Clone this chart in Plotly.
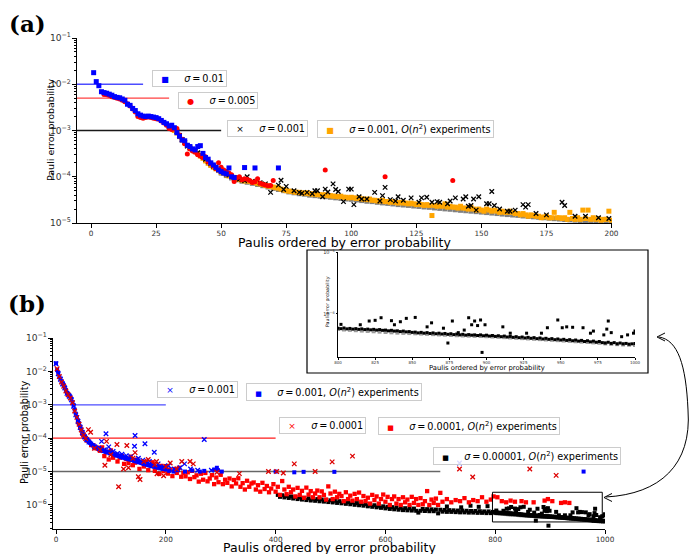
import plotly.graph_objects as go
import math

W, H = 689, 554

# ================= Panel (a): first 200 Paulis =================
a_ticks_x = [0, 25, 50, 75, 100, 125, 150, 175, 200]
a_sigma_levels = [1e-2, 5e-3, 1e-3]
a_sigma_line_end = [20, 30, 50]

# sigma = 0.01 (blue squares), values in units of 1e-5
a_blue_x = list(range(1, 56)) + [59, 63, 72]
a_blue_y_e5 = [1780, 1140, 930, 690, 660, 640, 610, 580, 540, 520,
               510, 480, 450, 370, 350, 300, 270, 230, 215, 205,
               200, 205, 200, 195, 190, 180, 165, 150, 140, 125,
               130, 115, 90, 75, 62, 60, 48, 45, 40, 38,
               45, 47, 32, 26, 24, 20, 18, 16, 14, 13,
               12, 11.5, 15.5, 10, 9.6,
               15.8, 15.5, 15.5]

# sigma = 0.005 (red circles)
a_red_x = list(range(5, 71)) + [90, 113, 139]
a_red_y_e5 = [600, 590, 570, 540, 520, 500, 480, 450, 420, 380,
              340, 290, 250, 200, 190, 185, 190, 195, 190, 185,
              180, 175, 160, 145, 130, 110, 105, 108, 110, 80,
              65, 52, 31, 40, 36, 34, 30, 28, 26, 27,
              21, 19, 17, 15, 20, 16, 14, 13, 12, 11,
              7.9, 9.5, 10, 8.6, 9.0, 8.8, 8.3, 7.5, 7.8, 9.0,
              7.2, 6.9, 6.6, 6.4, 6.5, 8.3,
              14, 10, 8.3]

# sigma = 0.001 (black crosses)
a_black_x = list(range(33, 60)) + [
    60, 62, 65, 67, 69, 72, 73, 74, 75, 78,
    80, 81, 83, 85, 86, 87, 89, 90, 91, 93,
    94, 95, 97, 99, 100, 101, 103, 104, 106, 109,
    111, 112, 113, 115, 117, 118, 120, 123, 126, 127,
    129, 131, 133, 134, 137, 138, 140, 143, 144, 145,
    146, 147, 148, 149, 152, 153, 154, 155, 157, 160,
    161, 163, 166, 167, 168, 171, 175, 181, 182, 186,
    190, 195, 199]
a_black_y_e5 = [95, 78, 64, 56, 46, 42, 39, 36, 33, 30,
                27, 24, 21, 19, 17, 15.5, 14.5, 13.4, 12.5, 11.6,
                10.9, 10.2, 9.7, 9.2, 8.9, 8.6, 8.3,
                10.0, 8.0, 7.4, 7.0, 4.6, 6.6, 8.4, 5.3, 6.2, 5.0,
                4.6, 4.4, 4.6, 4.3, 5.0, 5.0, 3.7, 5.4, 4.7, 7.0,
                5.3, 4.8, 2.9, 5.4, 5.4, 2.5, 3.7, 3.3, 3.3, 4.6,
                3.0, 3.9, 5.9, 3.2, 3.0, 3.7, 3.1, 3.5, 2.8, 3.5,
                3.6, 2.8, 2.9, 2.8, 2.6, 3.0, 3.5, 3.3, 3.7, 2.3,
                2.4, 3.3, 1.9, 3.7, 2.6, 2.6, 4.8, 2.4, 2.0, 1.8,
                1.8, 1.9, 2.5, 2.2, 2.5, 1.6, 1.5, 2.8, 2.4, 1.4,
                1.4, 1.3, 1.25]

# sigma = 0.001, O(n^2) experiments (orange squares)
a_orange_x = list(range(30, 201))
a_orange_y_e5 = [122, 112, 100, 88, 74, 62, 54, 47, 42, 38,
                 35, 32, 28, 25, 22, 19.5, 17.5, 16, 14.8, 13.6,
                 12.6, 11.8, 11.0, 10.4, 9.8, 9.3, 9.0, 8.7, 8.4, 8.1,
                 8.3, 7.9, 7.6, 7.5, 7.2, 7.0, 6.8, 6.5, 6.3, 6.2,
                 6.0, 5.8, 5.7, 5.4, 5.2, 5.0, 4.9, 4.8, 4.7, 4.6,
                 4.6, 4.5, 4.4, 4.5, 4.3, 4.2, 4.3, 4.1, 4.1, 4.0,
                 4.1, 3.9, 3.9, 3.8, 3.8, 3.7, 3.8, 3.6, 3.6, 3.5,
                 3.6, 3.5, 3.4, 3.5, 3.3, 3.3, 3.2, 3.3, 3.1, 3.1,
                 3.0, 3.0, 3.1, 2.9, 2.9, 2.8, 2.9, 2.8, 2.7, 2.8,
                 2.7, 2.7, 2.6, 2.7, 2.6, 2.5, 2.6, 2.5, 2.4, 2.5,
                 2.4, 1.45, 2.4, 2.3, 2.4, 2.3, 2.6, 2.2, 2.3, 2.2,
                 2.2, 2.1, 2.3, 2.1, 2.1, 2.0, 2.2, 2.0, 1.9, 2.0,
                 1.9, 1.8, 2.0, 1.9, 1.8, 1.9, 1.8, 1.7, 1.8, 1.7,
                 1.7, 1.8, 1.7, 1.6, 1.6, 1.5, 1.6, 1.5, 1.4, 1.5,
                 1.45, 1.4, 1.4, 1.3, 1.35, 1.4, 1.3, 1.3, 1.7, 1.3,
                 1.3, 1.25, 1.3, 1.2, 1.7, 1.25, 1.2, 1.3, 1.2, 1.9,
                 1.25, 1.9, 1.2, 1.3, 1.2, 1.25, 1.15, 1.2, 1.2, 1.8,
                 1.15]

# true error rates (grey squares under the orange ones)
a_gray_x = list(range(50, 201, 2))
a_gray_y_e5 = [12.0, 10.6, 9.4, 8.6, 8.0, 7.6, 7.2, 6.8, 6.4, 6.0,
               5.6, 5.3, 5.0, 4.7, 4.5, 4.3, 4.2, 4.0, 3.9, 3.8,
               3.7, 3.6, 3.5, 3.4, 3.3, 3.25, 3.15, 3.05, 2.95, 2.9,
               2.8, 2.72, 2.65, 2.58, 2.5, 2.45, 2.4, 2.33, 2.28, 2.22,
               2.18, 2.12, 2.07, 2.02, 1.98, 1.93, 1.88, 1.84, 1.8, 1.76,
               1.72, 1.68, 1.64, 1.6, 1.56, 1.52, 1.49, 1.46, 1.42, 1.39,
               1.36, 1.33, 1.3, 1.27, 1.24, 1.22, 1.19, 1.17, 1.15, 1.13,
               1.11, 1.09, 1.07, 1.05, 1.04, 1.02]

# ================= Panel (b): 1000 Paulis =================
b_ticks_x = [0, 200, 400, 600, 800, 1000]
b_sigma_levels = [1e-3, 1e-4, 1e-5]
b_sigma_line_end = [200, 400, 700]

# sigma = 0.001, O(n^2) experiments (blue squares), units of 1e-6
b_bsq_x = list(range(0, 201, 2)) + [206, 214, 222, 235, 248, 262, 270, 288, 293, 295, 302, 400, 434, 451, 507, 961]
b_bsq_y_e6 = [17500, 11000, 9200, 6900, 6100, 5100, 4400, 3900, 3300, 2800, 2300,
              2100, 1950, 1750, 1500, 1200, 980, 720, 540, 430, 340,
              280, 225, 185, 155, 130, 113, 102, 93, 85, 79,
              72, 69, 63, 61, 56, 55, 51, 50, 47, 47,
              44, 44, 41, 42, 39, 40, 37, 38, 35, 36,
              34, 35, 32, 33, 30, 31, 29, 30, 27, 28,
              26, 27, 25, 26, 24, 24.5, 23, 23.5, 22, 22.5,
              21, 22, 20, 20.5, 19, 19.5, 18.5, 18, 17.5, 17,
              16.5, 17, 16, 15.5, 15.5, 15, 14.5, 15, 14, 14,
              13.5, 14, 13, 13.5, 12.5, 13, 12, 12.5, 12, 11.5,
              10.5, 10, 11, 10, 10.8, 10, 10.5, 11.5, 13, 11, 10, 10, 9.5, 9.8, 9.8, 10]

# sigma = 0.001 (blue crosses)
b_bx_x = [0, 4, 8, 12, 16, 20, 24, 28, 32, 36, 40, 44, 48, 52, 56, 60,
          70, 78, 83, 88, 91, 96, 104, 112, 120, 128,
          136, 143, 144, 150, 158, 162, 170, 179, 186, 196,
          205, 215, 226, 234, 245, 258, 270, 283, 735]
b_bx_y_e6 = [17000, 8500, 5800, 4200, 3200, 2200, 1800, 1400, 900, 500, 320, 210, 145, 108, 90, 76,
             55, 50, 80, 45, 135, 55, 40, 35, 33, 30,
             28, 57, 120, 25, 22, 68, 20, 38, 17, 14,
             15, 12, 13, 17, 12, 11, 91, 11, 18]

# sigma = 0.0001 (red crosses)
b_rx_x = [2, 6, 10, 14, 18, 22, 26, 30, 34, 38, 42, 46, 50, 54,
          59, 63, 70, 80, 89, 92, 100, 111, 114, 123,
          129, 132, 140, 144, 150, 153, 160, 168, 180, 183,
          184, 196, 200, 208, 220, 229, 244, 250, 293, 334,
          387, 402, 414, 434, 472, 503, 540, 735, 759, 863,
          911]
b_rx_y_e6 = [12000, 7000, 4800, 3600, 2600, 2000, 1600, 1150, 650, 420, 260, 175, 125, 98,
             180, 150, 50, 45, 15.5, 80, 32, 65, 3.5, 12,
             60, 13, 25, 37, 7.0, 5.8, 20, 23, 16, 20,
             8.6, 7.5, 14, 18, 12, 20, 20, 17, 9.5, 8.7,
             10, 10, 9.1, 17, 10, 19.5, 29, 12, 6.9, 12,
             7.7]

# sigma = 0.0001, O(n^2) experiments (red squares), units of 1e-6
b_rsq_x = list(range(40, 701, 4)) + [704, 712, 720, 728, 736, 744, 752, 760, 768, 776,
                                     784, 792, 797, 804, 812, 820, 828, 836, 848, 856,
                                     870, 890, 896, 904, 920, 927, 935]
b_rsq_y_e6 = [300, 205, 135, 112, 85, 78, 62, 61, 50, 52,
              42, 53, 29, 39, 23, 43, 26, 32, 20, 26,
              29, 17, 24, 18, 28, 15.5, 18.5, 23, 12, 19,
              14.2, 19.8, 11, 15.5, 19, 10.5, 13.2, 8.5, 14.8, 10.3,
              14.6, 8.7, 11.6, 7.3, 11.9, 9.1, 13, 7.0, 9.2, 7.2,
              9.5, 6.0, 10.5, 6.8, 7.7, 5.0, 8.6, 5.7, 9.1, 5.1,
              6.2, 7.8, 4.2, 6.6, 4.8, 8.0, 4.2, 5.7, 4.6, 6.2,
              3.6, 5.6, 4.4, 6.3, 3.5, 4.5, 2.9, 5.3, 3.5, 4.4,
              4.7, 2.9, 3.9, 2.5, 4.6, 3.0, 3.7, 2.4, 3.1, 4.2,
              2.5, 3.5, 2.0, 5.2, 2.9, 2.1, 3.5, 2.4, 2.9, 1.8,
              3.25, 2.0, 2.65, 1.65, 3.3, 2.05, 2.6, 1.7, 2.2, 2.7,
              1.7, 2.55, 2.0, 1.45, 3.6, 2.2, 1.5, 2.5, 1.7, 2.15,
              1.85, 1.3, 2.4, 1.5, 1.9, 1.35, 2.15, 1.5, 2.35, 1.25,
              1.85, 1.3, 1.65, 1.1, 2.0, 1.4, 1.8, 1.1, 1.5, 2.05,
              1.25, 1.75, 1.0, 1.5, 1.8, 1.1, 1.5, 1.0, 1.7, 1.2,
              1.45, 1.0, 1.75, 1.15, 1.5, 1.0, 1.6, 1.05, 1.3, 2.6,
              1.0, 1.45, 1.15, 1.55, 1.0, 2.3,
              1.25, 1.5, 1.2, 1.4, 1.3, 1.6, 1.2, 1.4, 1.3, 1.7,
              1.25, 1.45, 1.8, 1.7, 1.3, 1.2, 1.35, 1.25, 1.3, 1.2,
              1.2, 1.35, 1.5, 1.3, 1.15, 1.2, 1.15]

# sigma = 0.00001, O(n^2) experiments (black squares), units of 1e-7
b_ksq_x = list(range(404, 800, 4)) + list(range(800, 1001, 2)) + [
    712, 738, 755, 770, 786,
    802, 815, 821, 825, 829, 836, 838, 842, 846, 852,
    860, 863, 871, 874, 877, 881, 885, 888, 890, 892,
    894, 896, 897, 899, 911, 916, 927, 937, 941, 948,
    951, 954, 958, 965, 970, 972, 979, 981, 982, 984,
    991, 995, 999, 1000]
b_ksq_y_e7 = [20, 17.5, 19.5, 16.8, 18.6, 16.2, 18.0, 15.6, 17.4, 15.0,
              16.8, 14.5, 16.2, 14.0, 15.8, 13.6, 15.4, 13.3, 15.0, 12.9,
              14.6, 12.6, 14.2, 12.2, 13.8, 11.9, 13.4, 11.5, 13.0, 11.2,
              12.6, 10.8, 12.2, 10.5, 11.8, 10.1, 11.4, 9.8, 11.0, 9.5,
              10.6, 9.1, 10.2, 8.8, 9.8, 8.5, 9.4, 8.2, 9.1, 7.9,
              8.8, 7.6, 8.6, 7.4, 8.4, 7.2, 8.2, 7.0, 8.0, 6.9,
              7.9, 6.8, 7.8, 6.7, 5.9, 6.7, 7.6, 6.6, 7.5, 6.5,
              7.4, 6.5, 7.3, 5.6, 7.2, 6.3, 7.1, 6.2, 7.0, 6.2,
              6.9, 6.1, 6.8, 6.0, 6.8, 6.0, 6.7, 5.9, 6.6, 5.9,
              6.6, 5.8, 6.5, 5.8, 6.4, 5.7, 6.4, 5.7, 6.2,
              5.9, 5.8, 5.95, 5.75, 5.85, 5.7, 5.8, 5.65, 5.75, 5.6,
              5.7, 5.55, 5.65, 5.5, 5.6, 5.45, 5.5, 5.35, 5.45, 5.3,
              5.35, 5.2, 5.3, 5.15, 5.2, 5.05, 5.1, 4.95, 5.05, 4.9,
              5.0, 4.85, 4.95, 4.8, 4.9, 4.75, 4.85, 4.7, 4.8, 4.65,
              4.75, 4.6, 4.7, 4.55, 4.65, 4.55, 4.6, 4.5, 4.6, 4.45,
              4.55, 4.4, 4.5, 4.35, 4.45, 4.3, 4.4, 4.25, 4.35, 4.2,
              4.3, 4.15, 4.25, 4.1, 4.2, 4.05, 4.15, 4.0, 4.1, 3.95,
              4.05, 3.9, 4.0, 3.85, 3.95, 3.8, 3.9, 3.75, 3.85, 3.7,
              3.8, 3.65, 3.75, 3.6, 3.7, 3.55, 3.65, 3.5, 3.6, 3.45,
              3.4, 3.5, 3.35, 3.45, 3.3, 3.4, 3.3, 3.35, 3.25, 3.3,
              3.35,
              9.0, 8.5, 9.5, 8.8, 9.2,
              6.8, 6.7, 7.7, 7.9, 8.7, 7.8, 6.7, 7.5, 8.5, 8.8,
              6.2, 7.2, 5.9, 3.4, 7.7, 5.0, 5.5, 8.7, 6.7, 7.7,
              6.5, 8.0, 2.4, 6.7, 6.2, 4.9, 4.9, 4.9, 6.0, 8.0,
              6.0, 6.2, 6.1, 6.0, 4.9, 5.3, 4.6, 5.7, 7.7, 5.0,
              4.3, 4.6, 4.9, 5.3]

# true error rates for the tail (grey), units of 1e-7
b_gray_x = list(range(800, 1001, 4))
b_gray_y_e7 = [5.7, 5.62, 5.55, 5.47, 5.4, 5.33, 5.26, 5.19, 5.12, 5.06,
               5.0, 4.96, 4.92, 4.88, 4.83, 4.78, 4.73, 4.68, 4.63, 4.58,
               4.54, 4.5, 4.47, 4.44, 4.41, 4.38, 4.33, 4.28, 4.23, 4.18,
               4.13, 4.08, 4.03, 3.98, 3.93, 3.88, 3.83, 3.78, 3.73, 3.68,
               3.63, 3.58, 3.53, 3.48, 3.43, 3.35, 3.3, 3.26, 3.22, 3.19, 3.16]

# zoom window drawn in panel (b) and shown in the inset
zoom_x = [795, 995]
zoom_y = [3.1e-7, 2.4e-6]
inset_ticks_x = [800, 825, 850, 875, 900, 925, 950, 975, 1000]


def scale(vals, f):
    return [v * f for v in vals]


FONT = "DejaVu Sans"
BLUE, RED, ORANGE, BLACK, GRAY = "#0000ff", "#ff0000", "#ffa500", "#000000", "#808080"

S01 = "<i>σ</i>\u2009=\u20090.01"
S005 = "<i>σ</i>\u2009=\u20090.005"
S001 = "<i>σ</i>\u2009=\u20090.001"
S0001 = "<i>σ</i>\u2009=\u20090.0001"
S00001 = "<i>σ</i>\u2009=\u20090.00001"
ON2 = ", <i>O</i>(<i>n</i><sup>2</sup>) experiments"

fig = go.Figure()

# ---- panel (a) ----
a_xmin = -5.4
for lvl, end, col in zip(a_sigma_levels, a_sigma_line_end,
                         ["rgba(0,0,255,0.7)", "rgba(255,0,0,0.75)", "rgba(0,0,0,0.9)"]):
    fig.add_trace(go.Scatter(x=[a_xmin, end], y=[lvl, lvl], mode="lines",
                             line=dict(color=col, width=1.3), showlegend=False,
                             xaxis="x", yaxis="y", hoverinfo="skip"))

fig.add_trace(go.Scatter(x=a_gray_x, y=scale(a_gray_y_e5, 1e-5), mode="markers",
                         marker=dict(symbol="square", size=5, color=GRAY),
                         name="true", showlegend=False, xaxis="x", yaxis="y"))
fig.add_trace(go.Scatter(x=a_orange_x, y=scale(a_orange_y_e5, 1e-5), mode="markers",
                         marker=dict(symbol="square", size=5, color=ORANGE),
                         name=S001 + ON2, showlegend=False, xaxis="x", yaxis="y"))
fig.add_trace(go.Scatter(x=a_black_x, y=scale(a_black_y_e5, 1e-5), mode="markers",
                         marker=dict(symbol="x-thin", size=4.5, line=dict(width=1.3, color=BLACK), color=BLACK),
                         name=S001, showlegend=False, xaxis="x", yaxis="y"))
fig.add_trace(go.Scatter(x=a_red_x, y=scale(a_red_y_e5, 1e-5), mode="markers",
                         marker=dict(symbol="circle", size=5, color=RED),
                         name=S005, showlegend=False, xaxis="x", yaxis="y"))
fig.add_trace(go.Scatter(x=a_blue_x, y=scale(a_blue_y_e5, 1e-5), mode="markers",
                         marker=dict(symbol="square", size=5, color=BLUE),
                         name=S01, showlegend=False, xaxis="x", yaxis="y"))

# ---- panel (b) ----
b_xmin = -5.5
for lvl, end, col, wd in zip(b_sigma_levels, b_sigma_line_end,
                             ["rgba(0,0,255,0.7)", "rgba(255,0,0,0.9)", "rgba(0,0,0,0.6)"],
                             [1.3, 1.3, 1.6]):
    fig.add_trace(go.Scatter(x=[b_xmin, end], y=[lvl, lvl], mode="lines",
                             line=dict(color=col, width=wd), showlegend=False,
                             xaxis="x2", yaxis="y2", hoverinfo="skip"))

fig.add_trace(go.Scatter(x=b_gray_x, y=scale(b_gray_y_e7, 1e-7), mode="markers",
                         marker=dict(symbol="square", size=4, color=GRAY),
                         name="true", showlegend=False, xaxis="x2", yaxis="y2"))
fig.add_trace(go.Scatter(x=b_ksq_x, y=scale(b_ksq_y_e7, 1e-7), mode="markers",
                         marker=dict(symbol="square", size=4, color=BLACK),
                         name=S00001 + ON2, showlegend=False, xaxis="x2", yaxis="y2"))
fig.add_trace(go.Scatter(x=b_rsq_x, y=scale(b_rsq_y_e6, 1e-6), mode="markers",
                         marker=dict(symbol="square", size=4.3, color=RED),
                         name=S0001 + ON2, showlegend=False, xaxis="x2", yaxis="y2"))
fig.add_trace(go.Scatter(x=b_bsq_x, y=scale(b_bsq_y_e6, 1e-6), mode="markers",
                         marker=dict(symbol="square", size=4, color=BLUE),
                         name=S001 + ON2, showlegend=False, xaxis="x2", yaxis="y2"))
fig.add_trace(go.Scatter(x=b_bx_x, y=scale(b_bx_y_e6, 1e-6), mode="markers",
                         marker=dict(symbol="x-thin", size=4.5, line=dict(width=1.3, color=BLUE), color=BLUE),
                         name=S001, showlegend=False, xaxis="x2", yaxis="y2"))
fig.add_trace(go.Scatter(x=b_rx_x, y=scale(b_rx_y_e6, 1e-6), mode="markers",
                         marker=dict(symbol="x-thin", size=4.5, line=dict(width=1.3, color="#dd0000"), color="#dd0000"),
                         name=S0001, showlegend=False, xaxis="x2", yaxis="y2"))

# ---- inset (zoom of the tail of panel (b)) ----
ins_g = [(x, v * 1e-7) for x, v in zip(b_gray_x, b_gray_y_e7) if x >= zoom_x[0] + 5]
ins_k = [(x, v * 1e-7) for x, v in zip(b_ksq_x, b_ksq_y_e7) if x >= zoom_x[0] + 5]
fig.add_trace(go.Scatter(x=[p[0] for p in ins_g], y=[p[1] for p in ins_g], mode="markers",
                         marker=dict(symbol="square", size=4, color="#9a9a9a"),
                         showlegend=False, xaxis="x3", yaxis="y3"))
fig.add_trace(go.Scatter(x=[p[0] for p in ins_k], y=[p[1] for p in ins_k], mode="markers",
                         marker=dict(symbol="square", size=3, color=BLACK),
                         showlegend=False, xaxis="x3", yaxis="y3"))


def dx(p0, p1):
    return [p0 / W, p1 / W]


def dy(top, bottom):
    return [1 - bottom / H, 1 - top / H]


TICKFONT = dict(family=FONT, size=7.3, color="#333333")
axis_common = dict(showline=True, linecolor="black", linewidth=1.2, ticks="outside",
                   ticklen=3.5, tickwidth=1, tickcolor="black", showgrid=False, zeroline=False,
                   mirror=False, automargin=False, tickfont=TICKFONT)
log_common = dict(axis_common, type="log", dtick=1, exponentformat="power",
                  minor=dict(ticks="outside", ticklen=2, dtick="D1", tickcolor="black", tickwidth=0.8))

inset_common = dict(showline=True, linecolor="black", linewidth=1, ticks="outside",
                    ticklen=1.5, tickwidth=0.6, tickcolor="black", showgrid=False, zeroline=False,
                    automargin=False, tickfont=dict(family=FONT, size=4, color="#333333"))

a_range_y = [-5, -1]
b_range_y = [-6.72, -1]
ins_range_y = [-6.694, -5]

fig.update_layout(
    width=W, height=H, margin=dict(l=0, r=0, t=0, b=0, autoexpand=False),
    paper_bgcolor="white", plot_bgcolor="rgba(0,0,0,0)", showlegend=False,
    font=dict(family=FONT, color="black"),
    xaxis=dict(axis_common, domain=dx(77, 612), range=[a_xmin, 200.2],
               tickmode="array", tickvals=a_ticks_x, anchor="y"),
    yaxis=dict(log_common, domain=dy(38, 223), range=a_range_y, anchor="x"),
    xaxis2=dict(axis_common, domain=dx(53, 605), range=[b_xmin, 1000],
                tickmode="array", tickvals=b_ticks_x, anchor="y2"),
    yaxis2=dict(log_common, domain=dy(338, 529), range=b_range_y, anchor="x2"),
    xaxis3=dict(inset_common, domain=dx(338, 635), range=[800, 1000],
                tickmode="array", tickvals=inset_ticks_x, anchor="y3"),
    yaxis3=dict(inset_common, type="log", dtick=1, exponentformat="power",
                domain=dy(252, 357), range=ins_range_y, anchor="x3"),
)


def P(x, y):
    return f"{x / W:.5f},{1 - y / H:.5f}"


shapes = []
# inset frame
shapes.append(dict(type="rect", xref="paper", yref="paper", x0=307 / W, x1=648 / W,
                   y0=1 - 373 / H, y1=1 - 250 / H, line=dict(color="black", width=1.2)))


def frac(v):
    return (math.log10(v) - b_range_y[0]) / (b_range_y[1] - b_range_y[0])


# zoom window in panel (b)
shapes.append(dict(type="rect", xref="x2", yref="y2 domain", x0=zoom_x[0], x1=zoom_x[1],
                   y0=frac(zoom_y[0]), y1=frac(zoom_y[1]), line=dict(color="black", width=1)))
# curved double arrow linking window and inset
arc = ("M " + P(606, 497) + " C " + P(660, 494) + " " + P(692, 465) + " " + P(688, 410)
       + " C " + P(686, 365) + " " + P(678, 340) + " " + P(659, 337))
shapes.append(dict(type="path", xref="paper", yref="paper", path=arc,
                   line=dict(color="black", width=1)))
shapes.append(dict(type="path", xref="paper", yref="paper",
                   path="M " + P(612, 493.5) + " L " + P(604, 497.5) + " L " + P(612, 501.5),
                   line=dict(color="black", width=1)))
shapes.append(dict(type="path", xref="paper", yref="paper",
                   path="M " + P(665, 333) + " L " + P(657, 337) + " L " + P(665, 341),
                   line=dict(color="black", width=1)))
fig.update_layout(shapes=shapes)


def ann(text, x, y, size, angle=0, family=FONT, color="black"):
    return dict(text=text, x=x / W, y=1 - y / H, xref="paper", yref="paper", showarrow=False,
                xanchor="center", yanchor="middle", textangle=angle,
                font=dict(family=family, size=size, color=color))


NB = "\u00a0"


def legend_box(glyph, gcolor, gsize, label, left, top):
    text = (NB * 2 + f"<span style='color:{gcolor};font-size:{gsize}px'>{glyph}</span>"
            + NB * 5 + label)
    return dict(text=text, x=left / W, y=1 - top / H, xref="paper", yref="paper",
                showarrow=False, xanchor="left", yanchor="top", align="left",
                bordercolor="#cccccc", borderwidth=1, borderpad=2,
                bgcolor="rgba(255,255,255,0.85)", font=dict(family=FONT, size=9.7, color="black"))


SQ, CI, XX = "\u25a0", "\u25cf", "\u00d7"
legends = [
    legend_box(SQ, BLUE, 8, S01, 152, 70),
    legend_box(CI, RED, 8, S005, 178, 92),
    legend_box(XX, BLACK, 9, S001, 227, 120),
    legend_box(SQ, ORANGE, 8, S001 + ON2, 317, 120),
    legend_box(XX, BLUE, 9, S001, 157, 381),
    legend_box(SQ, BLUE, 7, S001 + ON2, 246, 383),
    legend_box(XX, RED, 9, S0001, 279, 417),
    legend_box(SQ, RED, 7, S0001 + ON2, 378, 417),
    legend_box(SQ, BLACK, 7, S00001 + ON2, 433, 447),
]

fig.update_layout(annotations=[
    ann("<b>(a)</b>", 27, 23, 23, family="DejaVu Serif"),
    ann("<b>(b)</b>", 27, 303, 23, family="DejaVu Serif"),
    ann("Paulis ordered by error probability", 344, 242, 12.5),
    ann("Pauli error probability", 50, 130, 9.5, angle=-90),
    ann("Paulis ordered by error probability", 329, 547, 12.5),
    ann("Pauli error probability", 24, 433, 9.6, angle=-90),
    ann("Paulis ordered by error probability", 487, 368, 6.8),
    ann("Pauli error probability", 327, 302, 4.7, angle=-90),
] + legends)

# the page body has a default margin; remove it so the figure sits at the window origin
fig.write_html("out.html", config={"displayModeBar": False},
               post_script="document.body.style.margin='0';")
